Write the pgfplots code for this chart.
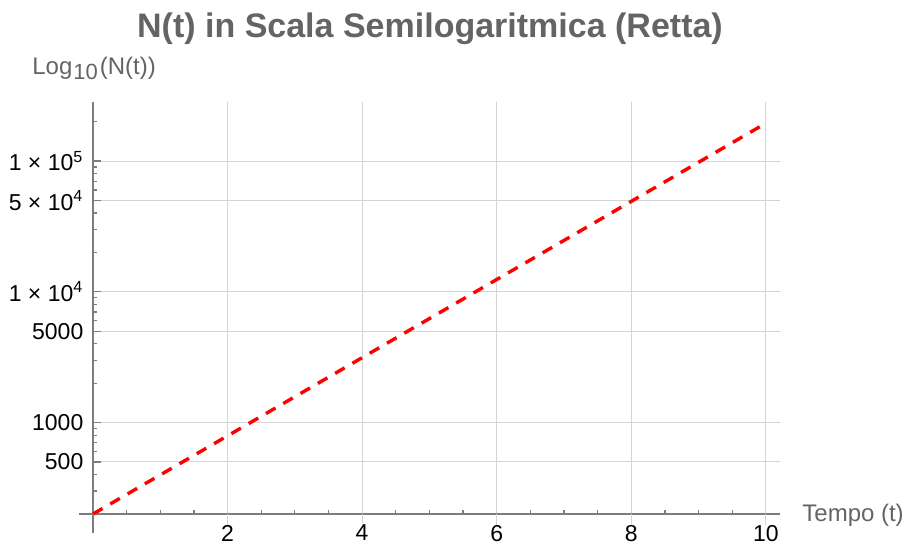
\documentclass[border=0pt]{standalone}
\usepackage{fontspec}
\setmainfont{Liberation Sans}
\usepackage{pgfplots}
\pgfplotsset{compat=1.18}
\definecolor{labgray}{RGB}{100,100,100}
\definecolor{axgray}{RGB}{125,125,125}
\definecolor{gridgray}{RGB}{212,212,212}
\begin{document}
\begin{tikzpicture}
\begin{axis}[
  scale only axis, width=343.5pt, height=206pt,
  xmin=0, xmax=10.21, ymin=200, ymax=283000,
  ymode=log, log basis y=10,
  axis lines=left,
  axis line style={axgray, line width=0.6pt, -},
  clip=false,
  xtick={2,4,6,8,10}, xticklabels={2,4,6,8,10},
  minor xtick={0.5,1,1.5,2.5,3,3.5,4.5,5,5.5,6.5,7,7.5,8.5,9,9.5},
  ytick={500,1000,5000,10000,50000,100000},
  yticklabels={500,1000,5000,{1 × 10\textsuperscript{4}},{5 × 10\textsuperscript{4}},{1 × 10\textsuperscript{5}}},
  minor ytick={300,400,600,700,800,900,2000,3000,4000,6000,7000,8000,9000,20000,30000,40000,60000,70000,80000,90000,200000},
  tick align=inside,
  major tick length=4pt, minor tick length=2pt,
  tick style={axgray, line width=0.6pt},
  major x tick style={draw=none},
  grid=major, major grid style={gridgray, line width=0.5pt},
  ticklabel style={font=\fontsize{11.5}{13}\selectfont, black},
  xticklabel style={anchor=north, yshift=-2pt},
  yticklabel style={anchor=east, xshift=-1.3pt},
]
\addplot[red, line width=1.7pt, dash pattern=on 5.5pt off 4.5pt] coordinates {
  (0,200) (1,398) (2,792) (3,1576) (4,3137) (5,6242) (6,12422) (7,24720) (8,49193) (9,97894) (10,194810)
};
\coordinate (O) at (axis cs:0,200);
\pgfplotsinvokeforeach{2,4,6,8,10}{\draw[gridgray, line width=0.5pt] (axis cs:#1,200) -- ++(0pt,-5.5pt);}
\draw[axgray, line width=0.6pt] (axis cs:0,200) -- ++(0pt,-9.5pt);
\draw[axgray, line width=0.6pt] (axis cs:0,200) -- ++(-7pt,0pt);
\node[anchor=base, text=labgray, font=\fontsize{17}{20}\selectfont\bfseries] at ([shift={(168.5pt,238pt)}]axis cs:0,200) {N(t) in Scala Semilogaritmica (Retta)};
\node[anchor=base west, inner sep=0pt, text=labgray, font=\fontsize{12}{14}\selectfont] at ([shift={(-30.5pt,219.5pt)}]axis cs:0,200) {Log\hspace{0.5pt}\raisebox{-2.2pt}{\fontsize{11}{12}\selectfont 10}\hspace{1pt}(N(t))};
\node[anchor=base west, inner sep=0pt, text=labgray, font=\fontsize{12}{14}\selectfont] at ([shift={(354.5pt,-4pt)}]axis cs:0,200) {Tempo (t)};
\end{axis}
\pgfresetboundingbox
\path[use as bounding box] ([shift={(-46.5pt,-15.5pt)}]O) rectangle ++(453.5pt,272.5pt);
\end{tikzpicture}
\end{document}
